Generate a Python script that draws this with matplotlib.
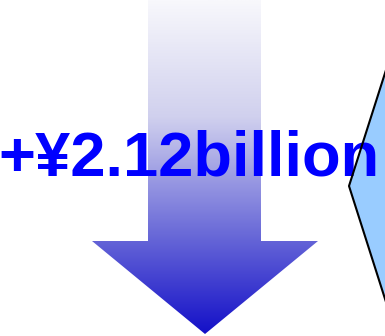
import matplotlib
matplotlib.use("Agg")
import matplotlib.pyplot as plt
import numpy as np
from matplotlib.colors import LinearSegmentedColormap
from matplotlib.patches import Polygon

# Label and shapes (pixel space, y grows downward)
label = "+¥2.12billion"
arrow_x = [148, 261, 261, 318, 205, 92, 148]
arrow_y = [0, 0, 241, 241, 334, 241, 241]
side_x = [386, 349, 386]
side_y = [70, 186, 302]

# Vertical gradient of the arrow, top to bottom
grad_pos = [0.0, 0.35, 0.7, 1.0]
grad_colors = ["#f8f8fc", "#d0d0ee", "#6a6ad8", "#1410c8"]

W, H = 385, 336
fig = plt.figure(figsize=(W / 100, H / 100), dpi=100)
ax = fig.add_axes([0, 0, 1, 1])
ax.set_xlim(0, W)
ax.set_ylim(H, 0)
ax.axis("off")

cmap = LinearSegmentedColormap.from_list("arrow", list(zip(grad_pos, grad_colors)))
arrow = Polygon(np.column_stack([arrow_x, arrow_y]), closed=True,
                facecolor="none", edgecolor="none")
ax.add_patch(arrow)
grad = np.linspace(0, 1, 256).reshape(-1, 1)
img = ax.imshow(grad, cmap=cmap, aspect="auto",
                extent=[min(arrow_x), max(arrow_x), max(arrow_y), min(arrow_y)],
                zorder=1)
img.set_clip_path(arrow)

side = np.column_stack([side_x, side_y])
ax.add_patch(Polygon(side, closed=False, facecolor="#99ccff",
                     edgecolor="none", zorder=1))
ax.plot(side_x, side_y, color="black", lw=1.5, zorder=4)

ax.text(189, 175, label, color="#0000ff", fontsize=45.5, fontweight="bold",
        family="Liberation Sans", ha="center", va="baseline", zorder=3)

fig.savefig("out.png", dpi=100)
